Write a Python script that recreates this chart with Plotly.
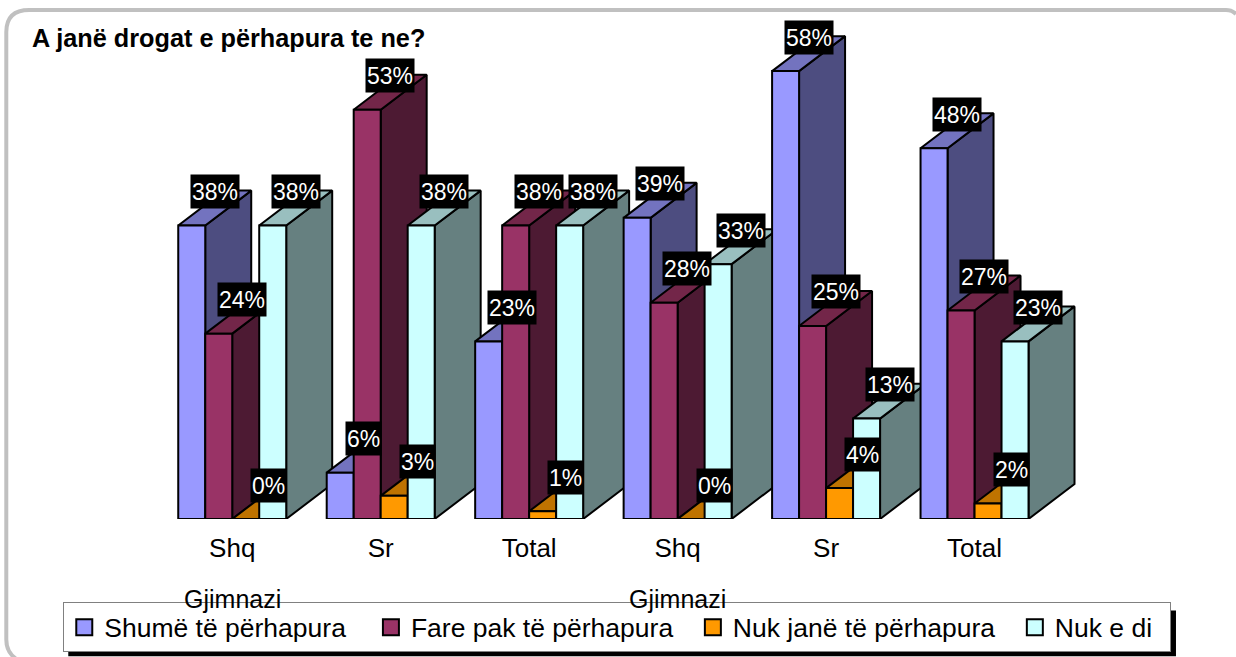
import plotly.graph_objects as go

groups = ["Shq", "Sr", "Total", "Shq", "Sr", "Total"]
series_names = ["Shumë të përhapura", "Fare pak të përhapura", "Nuk janë të përhapura", "Nuk e di"]
shume = [38, 6, 23, 39, 58, 48]
fare_pak = [24, 53, 38, 28, 25, 27]
nuk_jane = [0, 3, 1, 0, 4, 2]
nuk_di = [38, 38, 38, 33, 13, 23]
series_values = [shume, fare_pak, nuk_jane, nuk_di]
front = ["#9999FF", "#993366", "#FF9900", "#CCFFFF"]
top = ["#7373BF", "#732649", "#BF7300", "#99BFBF"]
side = ["#4D4D80", "#4D1A33", "#804D00", "#668080"]
group_labels = ["Gjimnazi", "Gjimnazi"]
group_label_pos = [0, 3]
legend_pad = ["\u00a0\u00a0\u2009", "\u00a0\u00a0", "\u00a0\u00a0", "\u00a0\u2009"]

W, H = 1236, 657
PX_GROUP = 148.5
PX_PCT = 7.73
L, R, T, B = 157.75, 113, 10, 137.5   # plot margins
BAR = 27 / PX_GROUP
DX = 46 / PX_GROUP
DY = 35 / PX_PCT
plot_w, plot_h = W - L - R, H - T - B


def px(x):
    return (x - L) / plot_w


def py(y):
    return (H - B - y) / plot_h


EDGE = dict(color="black", width=2)
fig = go.Figure()


def face(xs, ys, color):
    fig.add_trace(go.Scatter(x=xs + xs[:1], y=ys + ys[:1], mode="lines", fill="toself",
                             fillcolor=color, line=EDGE, showlegend=False,
                             hoverinfo="skip", cliponaxis=False))


annotations = []
for g in range(len(groups)):
    for s, vals in enumerate(series_values):
        v = vals[g]
        x0 = g + (s - 2) * BAR
        x1 = x0 + BAR
        face([x1, x1 + DX, x1 + DX, x1], [0, DY, v + DY, v], side[s])
        face([x0, x1, x1 + DX, x0 + DX], [v, v, v + DY, v + DY], top[s])
        face([x0, x1, x1, x0], [0, 0, v, v], front[s])
        annotations.append(dict(x=(x0 + x1 + DX) / 2, y=v + DY, xref="x", yref="y", text=f"{v}%",
                                showarrow=False, xanchor="center", yanchor="middle", height=31, yshift=-1,
                                font=dict(color="white", size=23), bgcolor="black", borderpad=1))

for name, c, pad in zip(series_names, front, legend_pad):
    fig.add_trace(go.Scatter(x=[None], y=[None], mode="markers", name=name + pad,
                             marker=dict(symbol="square", size=16, color=c,
                                         line=dict(color="black", width=2))))

for lab, pos in zip(group_labels, group_label_pos):
    annotations.append(dict(x=pos, y=py(600), xref="x", yref="paper", text=lab, showarrow=False,
                            xanchor="center", yanchor="middle", font=dict(size=25, color="black")))

border = (f"M {px(20)},{py(662)} Q {px(6)},{py(655)} {px(6)},{py(640)} L {px(6)},{py(32)} "
          f"Q {px(6)},{py(10)} {px(29)},{py(10)} "
          f"L {px(1226)},{py(10)} Q {px(1232)},{py(10)} {px(1236)},{py(14)}")
shapes = [
    dict(type="path", xref="paper", yref="paper", path=border, line=dict(color="#C0C0C0", width=4),
         layer="below"),
    dict(type="rect", xref="paper", yref="paper", x0=px(68), x1=px(1176), y0=py(657), y1=py(611),
         fillcolor="black", line=dict(width=0), layer="above"),
]

fig.update_layout(
    width=W, height=H, autosize=False,
    margin=dict(l=L, r=R, t=T, b=B, autoexpand=False),
    paper_bgcolor="white", plot_bgcolor="white",
    font=dict(family="Liberation Sans, Arial, sans-serif", color="black"),
    title=dict(text="<b>A janë drogat e përhapura te ne?</b>", x=32 / W, xanchor="left", xref="container",
               y=1 - 38 / H, yanchor="middle", yref="container", font=dict(size=25.25)),
    xaxis=dict(range=[-0.5, -0.5 + plot_w / PX_GROUP], tickvals=list(range(len(groups))), ticktext=groups,
               showgrid=False, zeroline=False, showline=False, ticks="", tickfont=dict(size=26),
               ticklabelstandoff=11, fixedrange=True),
    yaxis=dict(range=[0, plot_h / PX_PCT], visible=False, fixedrange=True),
    legend=dict(orientation="h", x=px(63), y=py(603), xanchor="left", yanchor="top",
                bgcolor="white", bordercolor="#808080", borderwidth=1,
                font=dict(size=26.5), traceorder="normal"),
    annotations=annotations, shapes=shapes, showlegend=True,
)
fig.write_html("out.html", post_script="document.body.style.margin='0';",
               config=dict(displayModeBar=False))
